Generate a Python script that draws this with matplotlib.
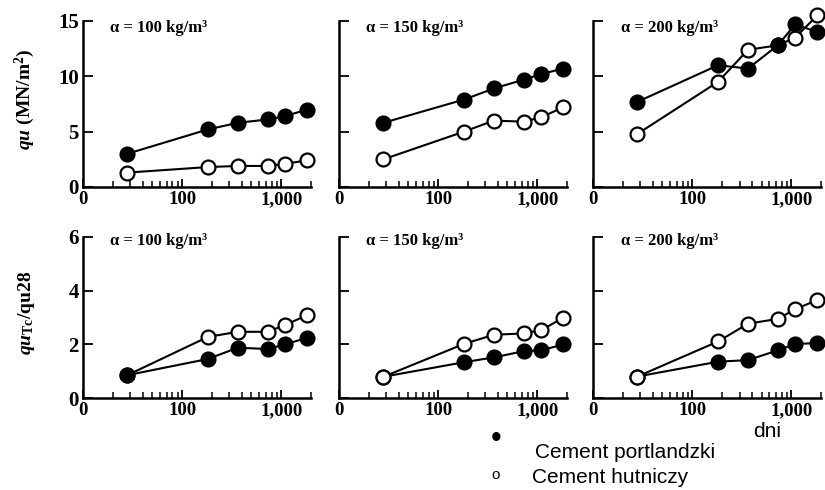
import matplotlib
matplotlib.use('Agg')
import matplotlib.pyplot as plt
import matplotlib.ticker as mticker
import numpy as np

plt.rcParams['font.family'] = ['Liberation Serif', 'DejaVu Serif']
plt.rcParams['font.weight'] = 'bold'
plt.rcParams['mathtext.fontset'] = 'custom'
plt.rcParams['mathtext.rm'] = 'Liberation Serif:bold'
plt.rcParams['mathtext.it'] = 'Liberation Serif:italic:bold'
plt.rcParams['axes.spines.right'] = False
plt.rcParams['axes.spines.top'] = False

# dni (28 d, 0.5 r, 1 r, 2 r, 3 r, 5 r)
days = [28, 182, 365, 730, 1095, 1825]
titles = ['α = 100 kg/m³', 'α = 150 kg/m³', 'α = 200 kg/m³']

# qu (MN/m2)
qu_portland = [[3.0, 5.2, 5.8, 6.1, 6.4, 7.0],
               [5.8, 7.9, 8.9, 9.7, 10.2, 10.7],
               [7.7, 11.0, 10.7, 12.8, 14.7, 14.0]]
qu_hutniczy = [[1.3, 1.8, 1.9, 1.9, 2.1, 2.4],
               [2.5, 5.0, 6.0, 5.9, 6.3, 7.2],
               [4.8, 9.5, 12.4, 12.8, 13.5, 15.5]]

# quTc/qu28
ratio_portland = [[0.86, 1.46, 1.88, 1.83, 2.0, 2.25],
                  [0.8, 1.34, 1.52, 1.75, 1.78, 2.0],
                  [0.81, 1.36, 1.42, 1.78, 2.02, 2.05]]
ratio_hutniczy = [[0.86, 2.28, 2.47, 2.47, 2.72, 3.09],
                  [0.8, 2.02, 2.36, 2.41, 2.53, 2.99],
                  [0.81, 2.11, 2.77, 2.95, 3.31, 3.65]]

fig = plt.figure(figsize=(8.25, 4.9), dpi=100)

lefts = [0.1006, 0.411, 0.719]
width = 0.2764
rows = [(0.6184, 0.3388, 15, [0, 5, 10, 15], qu_portland, qu_hutniczy, 0.955),
        (0.1871, 0.3298, 6, [0, 2, 4, 6], ratio_portland, ratio_hutniczy, 0.972)]

axes = []
for r, (bottom, height, ymax, yticks, filled, opened, ty) in enumerate(rows):
    for c in range(3):
        ax = fig.add_axes([lefts[c], bottom, width, height])
        axes.append(ax)
        # which series ends on top
        filled_top = (r == 0) or (c == 0)
        zf, zo = (4, 3) if filled_top else (3, 4)
        ax.plot(days, opened[c], '-o', color='black', mfc='white', mec='black',
                ms=10, mew=1.6, lw=1.5, zorder=zo, clip_on=False)
        ax.plot(days, filled[c], '-o', color='black', mfc='black', mec='black',
                ms=10, mew=1.6, lw=1.5, zorder=zf, clip_on=False)
        ax.set_xscale('log')
        ax.set_xlim(10, 2000)
        ax.set_ylim(0, ymax)
        ax.set_xticks([10, 100, 1000])
        ax.set_xticklabels(['0', '100', '1,000'])
        ax.xaxis.set_minor_locator(mticker.LogLocator(base=10, subs=np.arange(2, 10)))
        ax.xaxis.set_minor_formatter(mticker.NullFormatter())
        ax.set_yticks(yticks)
        if c == 0:
            ax.set_yticklabels([str(v) for v in yticks])
        else:
            ax.set_yticklabels([])
        ax.tick_params(axis='x', which='major', direction='in', length=6, width=1.3,
                       labelsize=13.5, pad=3)
        ax.tick_params(axis='x', which='minor', direction='in', length=4, width=1.1)
        ax.tick_params(axis='y', which='major', direction='in', length=7, width=1.3,
                       labelsize=15, pad=3)
        for s in ['left', 'bottom']:
            ax.spines[s].set_linewidth(1.8)
        ax.text(0.12, ty, titles[c], transform=ax.transAxes, fontsize=12,
                fontweight='bold', va='center', ha='left')

axes[0].set_ylabel(r'$\mathit{qu}\ \mathrm{(MN/m^2)}$', fontsize=14)
axes[0].yaxis.set_label_coords(-0.2, 0.53)
axes[3].set_ylabel(r'$\mathit{qu}_{\mathrm{Tc}}\mathrm{/qu28}$', fontsize=14)
axes[3].yaxis.set_label_coords(-0.2, 0.53)

# legenda
fig.text(753 / 825, 1 - 431 / 490, 'dni', fontsize=15, family='Liberation Sans',
         fontweight='normal', va='center', ha='left')
fig.text(496 / 825, 1 - 439 / 490, '•', fontsize=22, family='Liberation Sans',
         fontweight='normal', va='center', ha='center')
fig.text(535 / 825, 1 - 452 / 490, 'Cement portlandzki', fontsize=15,
         family='Liberation Sans', fontweight='normal', va='center', ha='left')
fig.text(496 / 825, 1 - 475 / 490, 'o', fontsize=11, family='Liberation Sans',
         fontweight='normal', va='center', ha='center')
fig.text(532 / 825, 1 - 477 / 490, 'Cement hutniczy', fontsize=15,
         family='Liberation Sans', fontweight='normal', va='center', ha='left')

plt.savefig('out.png', dpi=100)
